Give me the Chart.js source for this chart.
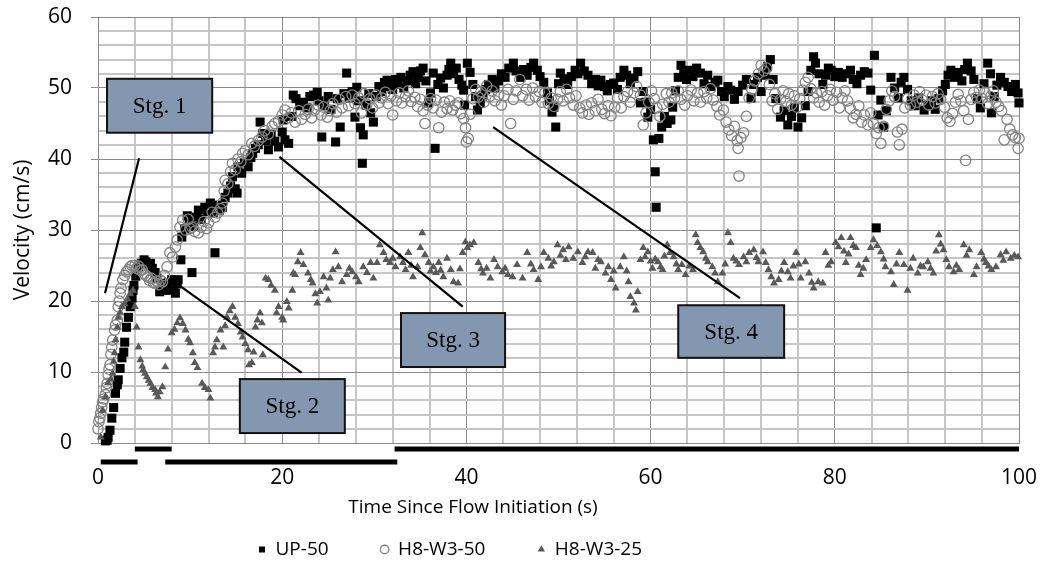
<!DOCTYPE html>
<html>
<head>
<meta charset="utf-8">
<script src="https://cdn.jsdelivr.net/npm/chart.js@4.4.1/dist/chart.umd.min.js"></script>
<style>
html,body{margin:0;padding:0;background:#ffffff;}
#wrap{width:1047px;height:577px;position:relative;}
</style>
</head>
<body>
<div id="wrap"><canvas id="c" width="1047" height="577"></canvas></div>
<script>
// ---------------- DATA ----------------
const seriesNames = ['UP-50', 'H8-W3-50', 'H8-W3-25'];

const xGrid = [0,4,8,12,16,20,24,28,32,36,40,44,48,52,56,60,64,68,72,76,80,84,88,92,96,100];
const xTickLabels = [0,20,40,60,80,100];
const yGrid = [0,2,4,6,8,10,12,14,16,18,20,22,24,26,28,30,32,34,36,38,40,42,44,46,48,50,52,54,56,58,60];
const yTickLabels = [0,10,20,30,40,50,60];

// UP-50 : [time (s), velocity (cm/s)]
const up50 = [
[0.8,0.3],[1.0,0.4],[1.1,0.8],[1.3,1.8],[1.5,3.5],[1.7,5.0],[1.9,7.0],[2.1,8.2],[2.2,8.9],[2.4,10.5],
[2.6,12.0],[2.8,12.8],[2.9,14.2],[3.1,16.3],[3.3,17.7],[3.5,19.2],[3.7,20.4],[3.8,21.5],[3.9,22.2],[4.1,23.5],
[4.4,24.8],[4.7,25.3],[5.0,25.8],[5.2,25.5],[5.4,25.2],[5.7,25.3],[5.9,24.6],[6.2,24.0],[6.4,23.2],[6.7,21.3],
[6.9,21.8],[7.2,22.5],[7.5,21.5],[7.7,22.6],[8.0,23.0],[8.2,22.2],[8.4,21.1],[8.6,22.4],[8.7,23.0],[9.0,25.8],
[9.1,29.0],[9.4,30.2],[9.7,32.0],[9.9,31.2],[10.2,24.0],[10.4,30.5],[10.7,31.8],[10.9,32.8],[11.2,31.5],[11.6,33.2],
[11.9,32.6],[12.2,33.8],[12.5,32.4],[12.7,26.8],[12.9,33.5],[13.2,32.8],[13.5,33.2],[13.8,34.6],[14.1,35.2],[14.4,36.2],
[14.6,37.5],[14.9,35.8],[15.1,35.2],[15.2,38.9],[15.6,38.0],[15.9,39.5],[16.3,38.9],[16.6,40.2],[16.8,40.8],[17.1,41.5],
[17.4,42.0],[17.6,45.2],[17.9,43.6],[18.2,42.6],[18.5,41.3],[18.8,43.5],[19.2,42.5],[19.6,41.7],[20.0,43.8],[20.1,45.5],
[20.3,42.7],[20.7,42.2],[21.0,46.0],[21.2,49.0],[21.5,48.5],[21.9,47.5],[22.3,48.0],[22.7,47.2],[23.0,48.8],[23.4,49.0],
[23.8,49.4],[24.0,48.2],[24.3,43.1],[24.6,47.5],[25.0,48.8],[25.3,47.0],[25.8,42.4],[26.0,48.5],[26.3,44.5],[26.7,49.2],
[27.0,52.1],[27.3,48.6],[27.6,49.5],[27.9,45.9],[28.1,50.1],[28.3,48.2],[28.5,44.4],[28.7,39.4],[28.8,43.4],[29.1,47.6],
[29.4,49.2],[29.6,46.5],[29.9,45.2],[30.2,48.8],[30.5,50.2],[30.8,49.5],[31.1,50.8],[31.4,51.1],[31.7,50.2],[32.0,49.8],
[32.3,51.2],[32.6,50.5],[32.9,51.5],[33.2,50.0],[33.6,51.0],[33.9,51.8],[34.2,52.3],[34.5,50.6],[34.8,51.5],[35.0,52.4],
[35.3,52.8],[35.6,51.0],[35.9,47.9],[36.1,49.3],[36.4,52.1],[36.6,41.5],[36.9,50.5],[37.2,51.4],[37.5,50.0],[37.9,51.8],
[38.1,52.6],[38.3,53.5],[38.6,52.0],[38.9,52.8],[39.2,51.2],[39.5,50.4],[39.7,49.7],[39.8,47.6],[40.1,53.5],[40.4,52.2],
[40.7,50.5],[41.0,48.8],[41.2,46.9],[41.5,47.8],[41.8,49.0],[42.1,49.8],[42.4,50.5],[42.8,51.2],[43.1,50.0],[43.5,51.0],
[43.8,52.0],[44.2,51.5],[44.6,52.8],[45.1,53.5],[45.4,52.4],[45.9,51.5],[46.2,52.6],[46.6,51.8],[47.0,52.9],[47.3,53.5],
[47.7,52.5],[48.0,51.6],[48.4,50.8],[48.8,49.3],[49.0,48.2],[49.3,46.6],[49.5,47.3],[49.7,44.5],[50.0,50.6],[50.2,52.1],
[50.6,51.3],[51.0,50.5],[51.4,51.6],[51.8,52.5],[52.1,52.0],[52.4,53.5],[52.8,52.4],[53.2,51.8],[53.6,50.6],[54.0,51.2],
[54.3,50.3],[54.6,51.1],[55.0,50.2],[55.3,49.6],[55.6,50.5],[56.0,50.7],[56.4,49.8],[56.7,51.5],[57.1,52.5],[57.4,51.8],
[57.8,50.6],[58.2,51.4],[58.6,52.3],[58.9,47.9],[59.2,49.5],[59.5,48.0],[59.7,45.9],[60.0,47.0],[60.3,42.7],[60.5,38.2],
[60.6,33.2],[60.9,42.9],[61.2,44.5],[61.5,46.0],[61.8,45.0],[62.2,45.5],[62.4,47.3],[62.7,49.6],[63.0,51.5],[63.3,53.2],
[63.6,52.0],[63.9,51.2],[64.2,52.5],[64.6,51.6],[65.0,52.8],[65.4,52.1],[65.8,50.6],[66.2,51.8],[66.6,50.2],[67.0,50.8],
[67.3,51.1],[67.7,49.5],[68.0,48.8],[68.4,50.2],[68.7,49.7],[69.1,48.4],[69.5,49.5],[70.0,50.4],[70.4,51.2],[70.9,48.6],
[71.2,50.5],[71.6,51.5],[72.0,49.5],[72.4,51.8],[72.7,53.0],[73.0,54.0],[73.3,51.2],[73.6,48.5],[74.1,45.9],[74.5,46.8],
[74.9,44.8],[75.3,46.0],[75.6,47.2],[76.0,44.5],[76.4,45.8],[76.8,47.5],[77.1,49.5],[77.4,52.5],[77.7,54.4],[77.9,53.5],
[78.3,52.0],[78.7,50.5],[79.0,51.8],[79.3,52.8],[79.6,52.5],[80.0,51.6],[80.4,52.2],[80.8,51.5],[81.2,52.0],[81.7,52.5],
[82.0,51.2],[82.4,50.6],[82.8,51.8],[83.2,52.3],[83.6,52.1],[83.9,49.7],[84.3,54.6],[84.5,30.3],[84.7,46.2],[85.0,48.3],
[85.3,44.5],[85.6,46.8],[86.1,51.5],[86.5,50.0],[86.9,48.6],[87.2,50.8],[87.5,51.5],[87.9,49.8],[88.3,48.2],[88.7,47.5],
[89.1,48.6],[89.7,46.9],[90.1,47.6],[90.5,48.2],[90.9,47.0],[91.3,48.5],[91.7,49.6],[92.0,50.5],[92.3,51.8],[92.6,52.5],
[93.0,51.5],[93.4,52.2],[93.8,51.0],[94.1,52.6],[94.4,53.5],[94.8,52.4],[95.1,51.2],[95.5,48.5],[95.8,47.2],[96.2,50.6],
[96.6,53.5],[96.9,52.0],[97.0,46.5],[97.3,48.8],[97.6,50.4],[98.0,51.5],[98.4,50.8],[98.8,50.2],[99.2,49.5],[99.6,50.5],
[99.9,49.3],[100.0,47.9]
];

// H8-W3-50 : [time (s), velocity (cm/s)]
const h8w350 = [
[0.0,2.0],[0.1,3.0],[0.2,3.5],[0.3,4.2],[0.4,5.0],[0.5,5.8],[0.6,6.2],[0.8,6.8],[0.9,7.8],[1.0,8.4],
[1.1,9.6],[1.2,10.4],[1.3,11.0],[1.4,12.5],[1.5,13.5],[1.6,14.5],[1.8,15.9],[1.9,16.6],[2.1,17.3],[2.2,19.2],
[2.3,20.0],[2.4,21.1],[2.5,21.8],[2.7,23.0],[2.9,23.6],[3.1,24.1],[3.3,24.4],[3.5,24.8],[3.7,25.0],[4.0,25.0],
[4.2,24.6],[4.4,24.9],[4.6,24.3],[4.8,24.4],[5.0,23.8],[5.2,23.6],[5.4,23.4],[5.6,22.9],[5.8,23.2],[6.0,22.6],
[6.2,22.5],[6.4,22.8],[6.6,22.3],[6.8,22.9],[7.0,22.7],[7.2,23.6],[7.5,24.8],[7.8,26.8],[8.1,26.2],[8.4,27.6],
[8.6,28.6],[8.9,30.4],[9.2,31.4],[9.5,30.0],[9.8,31.5],[10.0,30.2],[10.2,30.4],[10.5,29.8],[10.9,29.6],[11.2,30.4],
[11.5,31.2],[11.8,30.2],[12.0,31.0],[12.4,32.5],[12.7,31.8],[13.0,32.4],[13.3,33.0],[13.5,33.8],[13.7,35.5],[13.8,37.0],
[14.1,36.5],[14.4,38.2],[14.6,39.4],[14.9,38.5],[15.2,40.0],[15.5,39.6],[15.7,40.8],[16.0,41.2],[16.3,40.6],[16.7,42.2],
[17.0,41.8],[17.4,42.6],[17.8,43.1],[18.1,44.0],[18.5,43.5],[18.9,44.6],[19.2,45.0],[19.6,45.3],[20.0,46.2],[20.3,46.9],
[20.7,45.8],[21.0,46.5],[21.4,45.2],[21.8,46.8],[22.1,45.6],[22.5,46.3],[22.8,47.0],[23.2,45.8],[23.5,46.9],[23.9,47.6],
[24.2,46.2],[24.5,47.3],[24.9,45.9],[25.2,46.8],[25.5,47.8],[25.9,46.6],[26.2,48.4],[26.5,47.2],[26.9,48.8],[27.2,47.5],
[27.6,49.0],[27.9,47.8],[28.3,48.6],[28.6,46.5],[28.9,49.2],[29.2,47.7],[29.5,48.5],[29.8,47.2],[30.2,49.0],[30.5,47.9],
[30.8,48.6],[31.2,49.4],[31.5,47.8],[31.8,48.9],[32.0,46.2],[32.4,48.2],[32.7,49.3],[33.0,47.9],[33.4,48.8],[33.7,49.6],
[34.0,48.1],[34.4,48.7],[34.7,47.4],[35.0,48.4],[35.3,46.8],[35.5,45.0],[35.8,47.6],[36.1,48.5],[36.4,47.2],[36.7,48.3],
[37.0,44.4],[37.3,46.6],[37.6,48.0],[37.9,47.1],[38.2,48.2],[38.5,46.9],[38.8,47.6],[39.1,47.9],[39.4,46.4],[39.7,45.7],
[39.9,44.4],[40.0,42.4],[40.2,42.9],[40.4,46.3],[40.7,48.5],[41.0,49.8],[41.3,48.7],[41.6,49.5],[41.9,48.0],[42.2,50.3],
[42.5,48.8],[42.8,49.6],[43.1,48.2],[43.5,49.0],[43.8,47.6],[44.1,48.9],[44.5,49.8],[44.8,45.0],[45.1,48.4],[45.4,49.6],
[45.8,51.2],[46.1,48.9],[46.5,49.8],[46.8,48.3],[47.2,50.0],[47.5,48.8],[47.9,49.5],[48.2,48.0],[48.5,49.3],[48.9,47.8],
[49.2,48.6],[49.5,47.4],[49.9,48.4],[50.2,49.5],[50.5,48.2],[50.9,49.8],[51.2,48.6],[51.6,47.6],[51.9,48.9],[52.3,47.2],
[52.6,46.5],[53.0,47.6],[53.3,46.3],[53.6,47.9],[54.0,46.8],[54.3,48.4],[54.7,47.0],[55.0,46.4],[55.4,47.5],[55.7,46.1],
[56.1,47.3],[56.4,48.6],[56.8,47.2],[57.1,48.8],[57.5,49.5],[57.8,48.0],[58.2,49.3],[58.5,50.2],[58.9,49.0],[59.2,44.8],
[59.5,46.5],[59.8,48.0],[60.1,49.6],[60.4,48.5],[60.7,47.2],[61.0,46.0],[61.3,47.7],[61.7,49.2],[62.0,48.0],[62.3,49.3],
[62.6,48.6],[63.0,49.6],[63.3,48.4],[63.7,47.6],[64.0,48.9],[64.4,49.7],[64.7,48.2],[65.1,49.3],[65.4,48.0],[65.8,49.5],
[66.1,48.6],[66.5,49.9],[66.8,48.3],[67.2,47.4],[67.5,46.2],[67.9,46.9],[68.2,45.2],[68.5,44.1],[68.8,43.3],[69.1,44.6],
[69.4,42.6],[69.5,41.5],[69.6,37.6],[69.8,43.0],[70.1,43.7],[70.4,46.0],[70.7,48.6],[71.0,49.8],[71.3,51.0],[71.7,52.0],
[72.0,53.2],[72.3,52.4],[72.6,52.8],[72.9,50.5],[73.2,48.2],[73.5,49.2],[73.8,47.0],[74.1,48.4],[74.4,49.6],[74.7,48.1],
[75.0,49.2],[75.3,47.6],[75.6,48.9],[75.9,47.3],[76.2,48.5],[76.5,49.7],[76.8,50.8],[77.1,51.5],[77.4,49.9],[77.7,48.6],
[78.0,49.3],[78.3,48.0],[78.6,49.5],[78.9,47.6],[79.2,48.9],[79.5,49.8],[79.8,48.3],[80.2,49.4],[80.5,47.2],[80.8,48.6],
[81.1,49.6],[81.4,48.2],[81.7,47.1],[82.0,45.8],[82.3,46.3],[82.6,47.5],[82.9,45.2],[83.2,46.2],[83.6,44.8],[83.9,46.5],
[84.2,45.0],[84.5,43.6],[84.8,44.4],[85.0,42.2],[85.3,44.6],[85.6,47.0],[85.9,48.2],[86.2,49.6],[86.5,48.8],[86.8,43.8],
[87.0,42.0],[87.3,44.2],[87.6,47.2],[87.9,48.5],[88.2,47.6],[88.6,49.0],[88.9,48.0],[89.2,49.5],[89.5,48.3],[89.9,49.0],
[90.2,47.6],[90.6,48.8],[90.9,47.9],[91.2,49.2],[91.5,48.4],[91.9,47.3],[92.2,45.8],[92.5,45.3],[92.8,46.4],[93.1,48.0],
[93.4,49.1],[93.7,48.2],[94.0,46.8],[94.2,39.8],[94.5,45.6],[94.8,48.4],[95.1,49.4],[95.4,48.7],[95.7,49.7],[96.0,48.5],
[96.3,49.4],[96.6,47.8],[96.9,48.8],[97.2,49.6],[97.5,48.0],[97.8,47.4],[98.1,46.8],[98.4,42.7],[98.7,45.6],[99.0,44.2],
[99.3,43.4],[99.6,43.0],[99.9,41.5],[100.0,42.9]
];

// H8-W3-25 : [time (s), velocity (cm/s)]
const h8w325 = [
[0.3,0.8],[0.5,4.6],[0.8,6.5],[1.1,8.5],[1.4,9.0],[1.6,9.8],[1.7,11.5],[1.8,12.7],[1.9,14.5],[2.1,16.3],
[2.2,17.7],[2.4,18.4],[2.6,19.2],[2.9,19.6],[3.2,20.3],[3.5,21.0],[3.8,21.5],[4.0,19.2],[4.2,16.3],[4.4,13.5],
[4.6,11.7],[4.8,10.8],[4.9,10.3],[5.1,9.8],[5.3,9.3],[5.5,8.8],[5.7,8.4],[5.9,7.8],[6.2,7.5],[6.3,7.0],
[6.5,6.5],[6.7,7.2],[7.0,7.9],[7.3,10.7],[7.6,13.2],[8.0,15.5],[8.3,16.0],[8.6,16.9],[8.9,17.6],[9.2,16.8],
[9.5,15.9],[9.8,14.6],[10.0,14.1],[10.3,12.7],[10.5,11.3],[10.8,10.6],[11.3,8.4],[11.6,7.8],[12.0,7.5],[12.2,6.3],
[12.5,12.7],[12.7,13.5],[12.9,14.5],[13.3,15.9],[13.6,13.5],[13.8,16.5],[14.0,17.7],[14.3,18.6],[14.6,19.2],[14.9,17.7],
[15.2,16.8],[15.5,15.6],[15.7,14.9],[16.0,14.0],[16.3,13.1],[16.4,11.0],[16.7,11.3],[16.9,12.8],[17.1,16.3],[17.3,17.3],
[17.6,18.3],[17.8,16.9],[17.9,12.4],[18.2,23.2],[18.5,23.0],[18.8,22.2],[19.2,21.5],[19.4,18.3],[19.6,19.2],[20.0,17.7],
[20.1,17.3],[20.5,19.9],[20.7,19.0],[21.1,21.5],[21.2,23.9],[21.4,23.7],[21.7,25.5],[22.0,26.8],[22.3,25.1],[22.8,23.9],
[23.1,23.0],[23.3,22.5],[23.6,21.0],[23.8,19.7],[24.1,21.3],[24.5,23.4],[24.8,21.8],[25.0,20.1],[25.2,23.2],[25.5,24.4],
[25.8,26.9],[26.1,24.8],[26.5,22.7],[27.0,23.7],[27.3,24.6],[27.6,24.1],[28.0,23.4],[28.3,22.7],[28.8,24.8],[29.2,24.0],
[29.6,25.4],[29.9,23.2],[30.3,25.4],[30.6,27.9],[31.0,26.8],[31.3,25.8],[31.7,25.4],[32.0,26.0],[32.3,24.8],[32.8,26.2],
[33.1,25.4],[33.4,24.4],[33.7,26.8],[34.0,25.0],[34.2,23.4],[34.7,24.8],[35.0,27.5],[35.2,29.6],[35.5,26.5],[35.9,25.4],
[36.1,24.2],[36.4,24.8],[36.7,24.0],[37.0,25.4],[37.2,24.3],[37.5,23.4],[37.9,26.0],[38.3,24.4],[38.6,22.7],[39.1,22.5],
[39.3,24.5],[39.6,26.8],[39.9,28.3],[40.1,27.5],[40.4,27.9],[40.8,28.2],[41.3,25.4],[41.6,24.5],[41.8,23.9],[42.2,24.6],
[42.6,23.2],[43.0,25.8],[43.4,24.8],[43.9,24.1],[44.2,24.6],[44.5,23.7],[45.0,23.4],[45.5,25.1],[46.1,23.2],[46.6,26.8],
[47.0,25.2],[47.3,24.4],[47.8,23.0],[48.1,24.8],[48.4,26.8],[48.9,26.0],[49.2,24.9],[49.5,25.5],[49.9,27.9],[50.2,26.4],
[50.5,27.2],[50.8,25.8],[51.1,27.6],[51.6,26.0],[52.1,26.9],[52.6,25.4],[52.9,26.2],[53.2,26.9],[53.7,26.8],[54.0,24.6],
[54.3,25.8],[54.6,25.5],[55.1,23.9],[55.4,24.8],[55.7,23.0],[56.0,24.2],[56.2,21.8],[56.7,24.8],[57.1,26.2],[57.4,24.2],
[57.6,22.7],[57.8,20.6],[58.2,19.7],[58.4,18.7],[58.6,21.3],[58.9,25.8],[59.2,27.5],[59.4,26.2],[59.7,26.9],[60.0,25.6],
[60.2,24.6],[60.5,25.9],[60.8,25.5],[61.1,24.8],[61.3,24.4],[61.5,26.3],[61.8,27.9],[62.1,26.8],[62.5,26.2],[62.8,25.2],
[63.0,24.4],[63.4,25.1],[63.8,23.7],[64.2,24.9],[64.6,24.4],[64.9,29.3],[65.1,28.2],[65.4,27.5],[65.7,26.9],[66.0,26.0],
[66.2,25.5],[66.7,24.8],[67.0,23.9],[67.3,22.7],[67.8,23.9],[68.1,25.2],[68.4,29.6],[68.7,28.2],[69.0,26.0],[69.3,25.6],
[69.6,25.1],[70.1,26.2],[70.4,25.5],[70.7,26.8],[71.2,27.2],[71.5,26.1],[71.7,25.5],[72.2,26.9],[72.5,25.4],[72.8,24.4],
[73.1,23.4],[73.4,22.5],[73.9,23.0],[74.2,24.2],[74.5,25.4],[74.9,24.1],[75.2,23.2],[75.5,24.9],[75.8,26.8],[76.1,25.2],
[76.3,23.2],[76.8,25.5],[77.2,23.9],[77.5,22.6],[77.7,21.8],[78.2,22.7],[78.7,22.5],[79.0,26.8],[79.3,25.0],[79.6,25.5],
[80.1,28.2],[80.4,27.6],[80.7,28.9],[81.0,27.0],[81.2,25.4],[81.5,26.6],[81.7,28.9],[82.0,27.8],[82.3,27.5],[82.6,25.0],
[82.8,23.7],[83.1,24.6],[83.4,25.8],[83.9,27.5],[84.2,28.6],[84.6,27.8],[85.0,26.9],[85.3,25.9],[85.5,24.8],[86.1,24.1],
[86.4,22.3],[86.7,25.2],[87.0,26.8],[87.5,25.1],[87.9,21.5],[88.2,24.6],[88.5,26.0],[89.0,23.9],[89.3,24.9],[89.6,24.8],
[90.1,25.5],[90.4,24.6],[90.7,23.9],[91.0,27.0],[91.3,29.3],[91.5,28.0],[91.8,27.2],[92.1,25.8],[92.4,24.8],[92.9,24.1],
[93.2,25.0],[93.5,24.4],[94.0,27.9],[94.3,26.4],[94.6,27.2],[95.1,23.7],[95.4,24.8],[95.9,26.8],[96.2,25.9],[96.4,25.4],
[96.7,24.9],[97.0,24.4],[97.5,24.8],[98.0,26.5],[98.3,25.7],[98.6,26.9],[99.1,26.0],[99.5,26.4],[99.9,26.2]
];

// Stage time ranges (s) shown as bars under the axis
const stageNames = ['Stg. 1', 'Stg. 2', 'Stg. 3', 'Stg. 4'];
const stageStart = [0.3, 4.0, 7.3, 32.2];
const stageEnd   = [4.3, 8.0, 32.5, 100];

// ---------------- ANNOTATION LAYOUT (data units) ----------------
const calloutBox = [ // [xLeft, xRight, yTop, yBottom]
  [0.98, 12.4, 51.3, 43.7],
  [15.4, 26.8, 9.0, 1.4],
  [32.9, 44.2, 18.3, 10.7],
  [63.0, 74.5, 19.4, 12.0]
];
const calloutLine = [ // [x1, y1, x2, y2]
  [0.76, 21.1, 4.46, 40.1],
  [8.7, 22.3, 22.1, 9.9],
  [19.7, 40.3, 39.6, 19.2],
  [42.9, 44.5, 69.7, 20.4]
];

// ---------------- STYLE ----------------
const FONT = "'Open Sans', 'Noto Sans', sans-serif";
const MAJOR = '#8a8a8a';
const MINOR = '#c6c6c6';

const toXY = arr => arr.map(p => ({x: p[0], y: p[1]}));

const annotPlugin = {
  id: 'stageAnnotations',
  afterDatasetsDraw(chart) {
    const {ctx, chartArea} = chart;
    const xs = chart.scales.x, ys = chart.scales.y;
    ctx.save();
    // stage bars below the axis
    ctx.fillStyle = '#000';
    for (let i = 0; i < stageStart.length; i++) {
      const x0 = xs.getPixelForValue(stageStart[i]);
      const x1 = xs.getPixelForValue(stageEnd[i]);
      const yc = chartArea.bottom + (i % 2 === 0 ? 19 : 6);
      ctx.fillRect(x0, yc - 2.5, x1 - x0, 5);
    }
    // leader lines
    ctx.strokeStyle = '#000';
    ctx.lineWidth = 2.2;
    for (const l of calloutLine) {
      ctx.beginPath();
      ctx.moveTo(xs.getPixelForValue(l[0]), ys.getPixelForValue(l[1]));
      ctx.lineTo(xs.getPixelForValue(l[2]), ys.getPixelForValue(l[3]));
      ctx.stroke();
    }
    // boxes
    ctx.font = "23px 'Liberation Serif', 'Times New Roman', serif";
    ctx.textAlign = 'center';
    ctx.textBaseline = 'middle';
    for (let i = 0; i < calloutBox.length; i++) {
      const b = calloutBox[i];
      const l = xs.getPixelForValue(b[0]), r = xs.getPixelForValue(b[1]);
      const t = ys.getPixelForValue(b[2]), btm = ys.getPixelForValue(b[3]);
      ctx.fillStyle = '#8497b0';
      ctx.fillRect(l, t, r - l, btm - t);
      ctx.lineWidth = 2;
      ctx.strokeStyle = '#111';
      ctx.strokeRect(l, t, r - l, btm - t);
      ctx.fillStyle = '#000';
      ctx.fillText(stageNames[i], (l + r) / 2, (t + btm) / 2 + 1);
    }
    ctx.restore();
  }
};

const placeBlocks = {
  id: 'placeBlocks',
  afterLayout(chart) {
    const lg = chart.legend;
    if (lg) { lg.left = 206; lg.top -= 5; lg.bottom -= 5; }
    const tb = chart.titleBlock;
    if (tb) { tb.left = 0; tb.right = 946; }
  }
};

const isMajorX = c => c.tick && xTickLabels.includes(c.tick.value);
const isMajorY = c => c.tick && yTickLabels.includes(c.tick.value);

new Chart(document.getElementById('c'), {
  type: 'scatter',
  data: {
    datasets: [
      {label: seriesNames[0], data: toXY(up50), pointStyle: 'rect', pointRadius: 6.4,
       backgroundColor: '#000', borderColor: '#000', borderWidth: 0, order: 3, clip: false},
      {label: seriesNames[1], data: toXY(h8w350), pointStyle: 'circle', pointRadius: 5.2,
       backgroundColor: 'rgba(255,255,255,0)', borderColor: '#838383', borderWidth: 1.3, order: 2, clip: false},
      {label: seriesNames[2], data: toXY(h8w325), pointStyle: 'triangle', pointRadius: 4.6,
       backgroundColor: '#595959', borderColor: '#595959', borderWidth: 0, order: 1, clip: false}
    ]
  },
  options: {
    responsive: false,
    animation: false,
    events: [],
    layout: {padding: {top: 17, right: 28, bottom: 3, left: 0}},
    scales: {
      x: {
        type: 'linear', min: 0, max: 100,
        afterBuildTicks: s => { s.ticks = xGrid.map(v => ({value: v})); },
        afterFit: s => { s.height = 50; s.paddingLeft = 0; s.paddingRight = 0; },
        ticks: {autoSkip: false, maxRotation: 0, padding: 22, color: '#000',
                font: {family: FONT, size: 21},
                callback: v => xTickLabels.includes(v) ? String(v) : ''},
        grid: {color: c => isMajorX(c) ? MAJOR : MINOR, lineWidth: c => isMajorX(c) ? 1 : 2, drawTicks: false},
        border: {color: MAJOR, width: 1},
        title: {display: false}
      },
      y: {
        type: 'linear', min: 0, max: 60,
        afterBuildTicks: s => { s.ticks = yGrid.map(v => ({value: v})); },
        afterFit: s => { s.width = 98; s.paddingTop = 0; s.paddingBottom = 0; },
        ticks: {autoSkip: false, padding: 19, color: '#000',
                font: {family: FONT, size: 21},
                callback: v => yTickLabels.includes(v) ? String(v) : ''},
        grid: {color: c => isMajorY(c) ? MAJOR : MINOR, lineWidth: c => isMajorY(c) ? 1 : 2,
               drawTicks: true, tickLength: 7, tickWidth: 1,
               tickColor: c => isMajorY(c) ? MAJOR : 'rgba(0,0,0,0)'},
        border: {color: MAJOR, width: 1},
        title: {display: true, text: 'Velocity (cm/s)', color: '#000',
                font: {family: FONT, size: 21}, padding: {top: 10, bottom: 0}}
      }
    },
    plugins: {
      tooltip: {enabled: false},
      title: {display: true, position: 'bottom', weight: 500, text: 'Time Since Flow Initiation (s)',
              color: '#000', font: {family: FONT, size: 19, weight: 'normal'},
              padding: {top: 3.6, bottom: -26.4}},
      legend: {display: true, position: 'bottom', align: 'start',
               labels: {usePointStyle: true, boxWidth: 8, boxHeight: 6, padding: 52, color: '#000',
                        font: {family: FONT, size: 19},
                        sort: (a, b) => a.datasetIndex - b.datasetIndex}}
    }
  },
  plugins: [annotPlugin, placeBlocks]
});
</script>
</body>
</html>
